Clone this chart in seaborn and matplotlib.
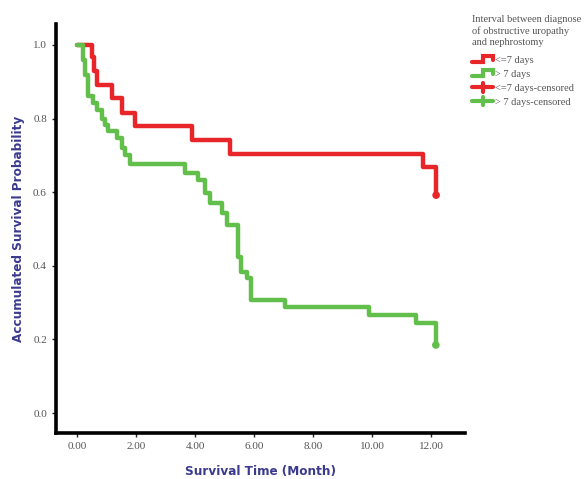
import numpy as np
import pandas as pd
import seaborn as sns
import matplotlib.pyplot as plt
from matplotlib.lines import Line2D
from matplotlib.legend_handler import HandlerBase

# --- данные ---
red_time = [0.0, 0.50, 0.58, 0.67, 1.18, 1.51, 1.97, 3.90, 5.19, 11.74, 12.17]
red_surv = [1.0, 0.966, 0.930, 0.891, 0.855, 0.814, 0.780, 0.742, 0.704, 0.668, 0.592]

green_time = [0.0, 0.20, 0.28, 0.38, 0.55, 0.67, 0.84, 0.95, 1.06, 1.34, 1.51,
              1.63, 1.80, 3.66, 4.11, 4.34, 4.50, 4.90, 5.07, 5.47, 5.55, 5.75,
              5.88, 7.05, 9.88, 11.50, 12.16]
green_surv = [1.0, 0.959, 0.918, 0.860, 0.842, 0.823, 0.800, 0.783, 0.765, 0.746,
              0.719, 0.700, 0.676, 0.651, 0.633, 0.597, 0.570, 0.543, 0.511, 0.425,
              0.384, 0.367, 0.307, 0.287, 0.266, 0.246, 0.185]

censor_time = [12.17, 12.16]
censor_surv = [0.592, 0.185]
censor_group = ['<=7 days', '> 7 days']

group_labels = ['<=7 days', '> 7 days']
x_ticks = [0, 2, 4, 6, 8, 10, 12]
y_ticks = [0.0, 0.2, 0.4, 0.6, 0.8, 1.0]

red = '#e8262a'
green = '#62bf4b'
label_color = '#3b3a8e'
tick_color = '#555555'

df = pd.concat([
    pd.DataFrame({'time': red_time, 'surv': red_surv, 'group': group_labels[0]}),
    pd.DataFrame({'time': green_time, 'surv': green_surv, 'group': group_labels[1]}),
])
df_cens = pd.DataFrame({'time': censor_time, 'surv': censor_surv, 'group': censor_group})

sns.set_style("ticks")
plt.rcParams['font.family'] = ['Liberation Serif', 'DejaVu Serif']

fig = plt.figure(figsize=(5.86, 4.79), dpi=100)
ax = fig.add_axes([0.0956, 0.096, 0.698, 0.854])

palette = {group_labels[0]: red, group_labels[1]: green}
sns.lineplot(data=df, x='time', y='surv', hue='group', palette=palette,
             estimator=None, sort=False, drawstyle='steps-post', lw=3.2,
             legend=False, ax=ax)
sns.scatterplot(data=df_cens, x='time', y='surv', hue='group', palette=palette,
                s=30, edgecolor='none', legend=False, ax=ax, zorder=5)

ax.set_xlim(-0.71, 13.15)
ax.set_ylim(-0.054, 1.057)
ax.set_xticks(x_ticks)
ax.set_xticklabels([f'{t:.2f}' for t in x_ticks])
ax.set_yticks(y_ticks)
ax.set_yticklabels([f'{v:.1f}' for v in y_ticks])
ax.tick_params(axis='both', labelsize=8, labelcolor=tick_color, color='#222222',
               length=3, width=1)

sns.despine(ax=ax)
for s in ['left', 'bottom']:
    ax.spines[s].set_linewidth(2.6)
    ax.spines[s].set_color('black')

lab_font = dict(family='DejaVu Sans', stretch='condensed', weight='bold',
                size=9.6, color=label_color)
ax.set_xlabel('Survival Time (Month)', labelpad=10, **lab_font)
ax.set_ylabel('Accumulated Survival Probability', labelpad=6, **lab_font)


# --- значки легенды: ступенька и крестик ---
class StepHandler(HandlerBase):
    def create_artists(self, legend, orig_handle, xdescent, ydescent,
                       width, height, fontsize, trans):
        c = orig_handle.get_color()
        x = np.array([0, 0.5, 0.5, 1.0, 1.0]) * width - xdescent
        y = np.array([0.25, 0.25, 0.85, 0.85, 0.45]) * height - ydescent
        return [Line2D(x, y, color=c, lw=3, solid_joinstyle='miter', transform=trans)]


class CrossHandler(HandlerBase):
    def create_artists(self, legend, orig_handle, xdescent, ydescent,
                       width, height, fontsize, trans):
        c = orig_handle.get_color()
        h = Line2D([-xdescent, width - xdescent], [0.5 * height - ydescent] * 2,
                   color=c, lw=3, transform=trans)
        v = Line2D([0.5 * width - xdescent] * 2, [-ydescent, height - ydescent],
                   color=c, lw=3, transform=trans)
        return [h, v]


step_red = Line2D([], [], color=red)
step_green = Line2D([], [], color=green)
cross_red = Line2D([], [], color=red)
cross_green = Line2D([], [], color=green)

leg = fig.legend([step_red, step_green, cross_red, cross_green],
                 ['<=7 days', '> 7 days', '<=7 days-censored', '> 7 days-censored'],
                 handler_map={step_red: StepHandler(), step_green: StepHandler(),
                              cross_red: CrossHandler(), cross_green: CrossHandler()},
                 title='Interval between diagnose\nof obstructive uropathy\nand nephrostomy',
                 loc='upper left', bbox_to_anchor=(0.799, 0.978), frameon=False,
                 fontsize=7.5, title_fontsize=7.5, handlelength=2.0, handleheight=0.9,
                 handletextpad=0.15, labelspacing=0.38, borderaxespad=0)
leg._legend_box.align = 'left'
leg._legend_box.sep = 6
leg.get_title().set_color(tick_color)
leg.get_title().set_linespacing(1.3)
for t in leg.get_texts():
    t.set_color(tick_color)

plt.savefig('out.png', dpi=100)
